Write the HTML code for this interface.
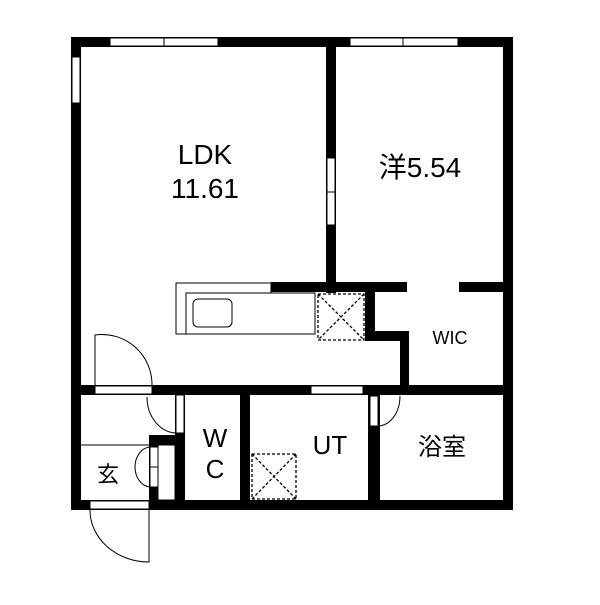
<!DOCTYPE html>
<html><head><meta charset="utf-8"><style>body{margin:0;background:#fff}</style></head><body>
<svg width="600" height="600" viewBox="0 0 600 600" xmlns="http://www.w3.org/2000/svg" font-family="Liberation Sans, Noto Sans CJK JP, sans-serif">
<rect width="600" height="600" fill="#fff"/>
<g fill="#000">
<rect x="71" y="37" width="442" height="10"/>
<rect x="71" y="37" width="10" height="473"/>
<rect x="503" y="37" width="10" height="473"/>
<rect x="71" y="500" width="442" height="10"/>
<rect x="326" y="37" width="10" height="256"/>
<rect x="271" y="282" width="136" height="10"/>
<rect x="459" y="282" width="54" height="10"/>
<rect x="365" y="282" width="10" height="59"/>
<rect x="365" y="331" width="44" height="10"/>
<rect x="400" y="331" width="9" height="64"/>
<rect x="71" y="385" width="442" height="10"/>
<rect x="175" y="395" width="10" height="110"/>
<rect x="240" y="395" width="10" height="110"/>
<rect x="368" y="395" width="12" height="110"/>
<rect x="149" y="435" width="36" height="10"/>
<rect x="149" y="435" width="9" height="70"/>
</g>
<g fill="#fff" stroke="#000" stroke-width="1">
<rect x="110" y="38" width="54" height="8"/><rect x="164" y="38" width="54" height="8"/>
<rect x="350" y="38" width="53" height="8"/><rect x="403" y="38" width="55" height="8"/>
<rect x="72" y="57" width="8" height="46"/>
<rect x="327" y="158" width="8" height="34"/><rect x="327" y="192" width="8" height="33"/>
<rect x="95" y="386" width="57" height="8"/>
<rect x="311" y="386" width="52" height="8"/>
<rect x="90" y="501" width="59" height="8"/>
<rect x="176" y="283" width="95" height="51"/>
<rect x="186" y="293" width="129" height="41"/>
<rect x="193" y="299" width="39" height="28" rx="5"/>
<rect x="176" y="395" width="8" height="38"/>
<rect x="370" y="396" width="8" height="30"/>
<rect x="158" y="445" width="17" height="55"/>
<rect x="150" y="447" width="8" height="20"/><rect x="150" y="467" width="8" height="20"/>
</g>
<g fill="none" stroke="#000" stroke-width="1">
<line x1="81" y1="445" x2="149" y2="445"/>
<path d="M95 385 V335 A50 50 0 0 1 152 385"/>
<path d="M147 397 A30 36 0 0 0 176 433"/>
<path d="M400 396 A22 30 0 0 1 378 426"/>
<path d="M149 510 V562 A59 52 0 0 1 90 510"/>
<path d="M150 447 A16 20 0 0 0 135 467 M150 487 A16 20 0 0 1 135 467"/>
</g>
<g fill="none" stroke="#000" stroke-width="1.3" stroke-dasharray="3,2">
<rect x="318" y="294" width="46" height="46"/>
<path d="M318 294 L364 340 M364 294 L318 340"/>
<rect x="252" y="454" width="44" height="45"/>
<path d="M252 454 L296 499 M296 454 L252 499"/>
</g>
<g fill="#000" text-anchor="middle">
<text x="205" y="164" font-size="28">LDK</text>
<text x="205" y="198" font-size="28">11.61</text>
<text x="420" y="177" font-size="28">洋5.54</text>
<text x="450" y="344" font-size="18">WIC</text>
<text x="215" y="447" font-size="26">W</text>
<text x="215" y="478" font-size="26">C</text>
<text x="330" y="454" font-size="26">UT</text>
<text x="442" y="455" font-size="24">浴室</text>
<text x="108" y="482" font-size="22">玄</text>
</g>
</svg>
</body></html>
